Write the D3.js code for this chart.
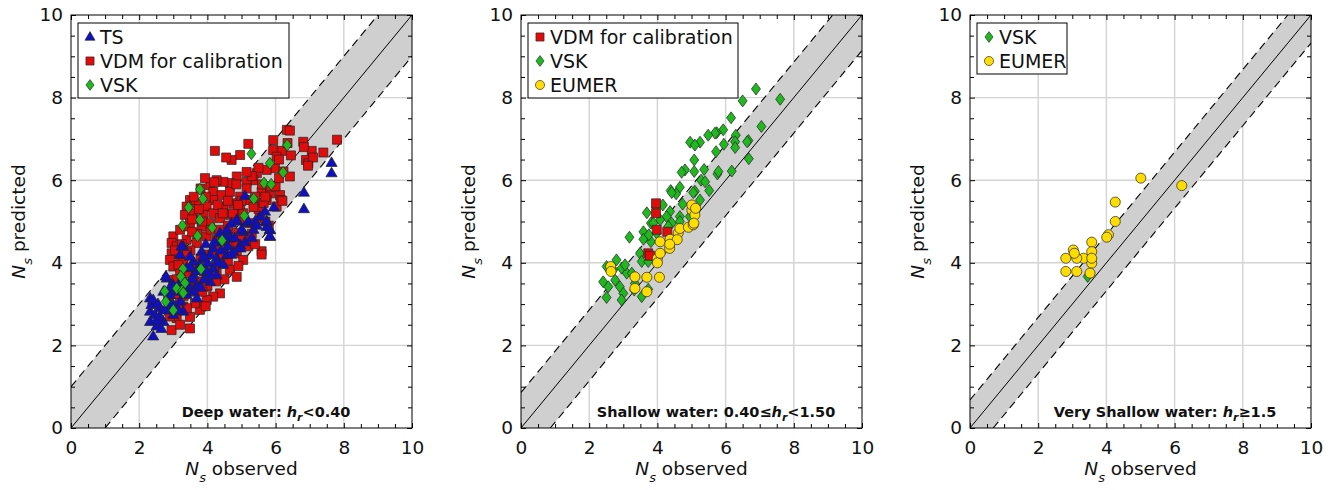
<!DOCTYPE html>
<html><head><meta charset="utf-8">
<script src="https://cdn.jsdelivr.net/npm/d3@7"></script>
<style>
html,body{margin:0;padding:0;background:#fff;}
svg{display:block;font-family:"DejaVu Sans",sans-serif;}
</style></head>
<body><svg id="chart" width="1338" height="490"></svg>
<script>
// ---------------- DATA ----------------
const axisTicks = [0, 2, 4, 6, 8, 10];
const minorTicks = [0.5,1,1.5,2.5,3,3.5,4.5,5,5.5,6.5,7,7.5,8.5,9,9.5];
const panelTitles = ["Deep water", "Shallow water", "Very Shallow water"];
const bandHalfWidth = [1.0, 0.86, 0.68];

// Panel 1 – Deep water
const deepVDM = [[6.33,7.22],[6.42,7.20],[5.93,6.97],[6.81,6.93],[7.06,6.71],[7.40,6.67],[6.89,6.49],[6.96,6.41],[7.80,6.98],[6.83,6.80],[7.10,6.55],[6.95,6.35],
[5.20,6.88],[4.22,6.71],[4.96,6.61],[4.71,6.49],[5.93,6.73],[6.18,6.71],[6.03,6.57],[5.98,6.29],[6.23,6.21],[6.42,6.09],[5.74,6.25],[5.45,6.17],[5.35,6.00],[5.15,5.96],
[4.86,6.09],[4.66,5.93],[4.47,5.96],[4.27,6.00],[4.08,5.88],[3.93,6.05],[4.17,5.72],[4.42,5.64],[4.66,5.72],[4.96,5.60],[5.15,5.80],[5.59,5.72],[5.84,5.68],[6.13,5.64],
[6.15,5.52],[6.03,5.36],[5.74,5.52],[5.45,5.36],[5.25,5.52],[4.76,5.44],[4.47,5.36],[4.17,5.52],[3.98,5.36],[3.69,5.44],[3.49,5.52],[3.39,5.36],[3.34,5.16],[3.59,5.20],
[3.88,5.16],[4.17,5.20],[4.37,5.08],[4.66,5.16],[4.96,5.04],[5.25,4.96],[5.54,5.08],[4.96,5.28],[4.08,4.96],[3.83,4.88],[3.49,4.96],[3.34,4.88],[3.00,4.64],[2.95,4.48],
[3.10,4.40],[3.39,4.56],[3.69,4.48],[3.98,4.64],[4.27,4.56],[4.57,4.72],[4.86,4.72],[5.15,4.64],[5.59,4.28],[5.59,4.20],[2.95,4.23],[3.20,4.15],[2.90,4.07],[3.00,3.91],
[4.57,4.15],[4.86,4.23],[5.05,4.07],[4.37,3.99],[4.66,3.83],[4.86,3.66],[4.91,3.92],[4.27,3.75],[3.98,3.66],[3.69,3.83],[3.20,3.75],[3.00,3.58],[3.10,3.42],[3.49,3.50],
[3.98,3.42],[4.37,3.26],[4.17,3.18],[3.98,3.10],[3.83,2.94],[3.78,2.86],[3.64,3.02],[3.49,2.69],[3.49,2.41],[2.95,2.37],[3.10,2.66],[3.29,2.94],[3.20,3.10],
[4.00,4.20],[4.20,4.30],[4.50,4.40],[4.70,4.50],[3.80,4.10],[3.60,3.90],[4.40,4.60],[4.10,4.80],[3.70,4.70],[4.60,4.90],[5.00,4.60],[5.30,4.70],[5.50,5.30],[5.70,5.00],
[5.80,4.90],[3.50,4.30],[3.30,4.00],[3.10,3.60],[3.30,3.20],[3.60,3.30],[3.90,3.80],[4.20,3.90],[4.50,3.60],[4.00,3.45],[3.40,2.90],[3.00,2.90],[3.20,2.50],[2.90,2.70],
[3.80,5.80],[3.60,5.60],[4.30,5.40],[4.60,5.50],[5.00,5.50],[5.40,5.60],[5.60,5.90],[5.85,5.85],[6.20,5.50],[6.10,6.50],[6.45,6.60],[6.35,6.90],[5.50,6.30],[5.30,6.10],
[4.85,5.90],[4.20,5.95],[3.95,5.60],[4.55,6.55],[5.15,6.20],[3.25,4.45],[3.55,4.75],[3.75,5.30],[4.35,4.80],[4.75,5.20],[5.05,5.20],[5.35,5.35],[5.65,5.45],[6.00,5.85],
[3.15,3.95],[3.45,3.75],[3.70,3.55],[3.85,3.30],[4.25,3.55],[4.60,4.05],[5.20,4.40],[2.85,3.20],[3.05,3.25],[3.35,3.45],
[3.55,5.05],[3.85,5.00],[4.45,5.20],[4.90,5.40],[5.70,5.60],[6.10,6.05],[3.20,4.80],[3.05,4.30],[3.40,4.25],[4.85,4.45],[5.40,4.45],[4.45,4.20],[3.25,3.35],[3.95,2.95]];
const deepTS = [[5.74,5.00],[5.84,4.79],[5.84,4.63],[5.74,4.87],[5.05,4.75],[4.86,5.00],[4.57,4.75],[4.66,4.59],[4.96,4.43],[4.97,4.35],[4.37,4.51],[4.17,4.35],[4.08,4.19],
[3.88,4.11],[3.83,4.27],[4.27,4.11],[4.57,4.19],[4.76,4.27],[4.47,3.95],[4.17,3.87],[3.98,3.79],[3.78,3.95],[3.59,4.03],[3.29,4.39],[3.20,4.19],[3.39,3.87],[3.59,3.70],
[4.08,3.54],[4.27,3.70],[3.69,3.46],[3.49,3.38],[3.20,3.54],[3.00,3.46],[2.81,3.62],[2.71,3.30],[2.90,3.22],[3.39,3.22],[3.69,3.14],[3.20,3.06],[3.00,2.98],[2.81,2.90],
[2.61,2.90],[2.41,3.06],[2.32,3.14],[2.32,2.82],[2.46,2.74],[2.61,2.66],[3.00,2.74],[3.29,2.82],[2.32,2.57],[2.71,2.57],[2.41,2.22],[2.51,2.46],[2.36,2.98],[2.41,3.10],
[2.78,3.67],[3.24,4.40],[3.49,4.15],[3.88,4.15],[4.37,4.72],[4.57,4.80],[4.86,5.04],[5.15,4.96],[5.35,4.80],[5.54,5.12],[5.10,5.62],[5.73,5.00],[5.69,5.24],[5.95,5.34],
[5.83,4.80],[5.83,4.64],[6.83,5.70],[6.83,5.30],[7.64,6.42],[7.64,6.17],[4.00,4.00],[4.20,4.50],[4.40,4.30],[3.90,3.60],[4.60,4.40],[4.80,4.60],[5.00,4.80],[5.20,5.00],
[5.40,5.00],[3.70,3.80],[3.30,3.60],[3.10,3.30],[2.90,3.00],[2.60,2.70],[2.50,2.60],[3.50,3.90],[4.10,3.70],[4.30,4.00],[4.70,4.20],[5.10,4.50],[5.30,4.60],[2.90,3.40],
[3.60,3.30],[2.75,2.85],[3.95,4.45],[4.50,4.60],[4.70,4.95],[5.45,4.90],[3.40,3.45],[3.80,3.40],[2.55,3.00],[2.65,2.40],[3.15,2.85],[3.55,3.60]];
const deepVSK = [[6.34,6.85],[5.29,6.64],[5.83,6.41],[6.22,6.19],[5.66,5.93],[5.87,5.90],[5.36,5.55],[3.78,5.78],[3.87,5.55],[3.45,5.34],[3.78,5.04],[3.27,4.90],
[4.14,4.85],[5.08,5.14],[3.71,4.65],[4.43,4.54],[3.28,3.85],[3.81,3.85],[3.22,3.67],[3.34,3.51],[3.10,3.38],[2.75,3.31],[3.26,3.32],[2.78,3.06],[3.00,2.85],[3.29,3.27]];

// Panel 2 – Shallow water
const shallowVDM = [[3.96,5.44],[3.96,5.20],[3.98,4.80],[4.29,4.75],[3.73,4.23],[3.78,4.17]];
const shallowVSK = [[6.89,8.21],[6.50,7.92],[7.60,7.96],[6.16,7.51],[7.05,7.30],[5.93,7.22],[5.74,7.15],[5.69,7.14],[5.49,7.09],[6.30,7.09],[6.67,6.96],[6.63,6.93],
[6.28,6.93],[4.96,6.92],[5.25,6.92],[5.10,6.85],[5.95,6.87],[6.28,6.79],[5.72,6.69],[6.68,6.52],[5.08,6.49],[4.81,6.25],[4.71,6.19],[5.37,6.26],[5.08,6.21],[6.18,6.22],
[5.76,6.15],[5.79,6.21],[5.28,6.00],[5.40,5.96],[5.52,5.75],[5.10,5.73],[4.66,5.83],[4.55,5.67],[4.39,5.75],[5.25,5.52],[4.42,5.70],[5.05,5.70],[4.74,5.42],[3.96,5.34],
[4.16,5.40],[3.69,5.21],[4.37,5.24],[4.27,5.12],[3.81,4.96],[4.08,5.04],[4.42,4.96],[3.59,4.75],[3.18,4.62],[3.81,4.51],[3.59,4.57],[3.98,4.72],[3.75,4.68],[3.49,4.23],
[3.54,4.03],[3.73,4.03],[2.71,3.83],[2.95,3.87],[3.10,3.75],[2.41,3.54],[2.76,3.58],[2.56,3.42],[2.90,3.42],[3.00,3.26],[2.51,3.16],[2.95,3.10],[3.34,3.50],[3.25,3.75],
[3.54,3.18],[3.32,3.34],[3.73,3.36],[4.66,5.12],[4.95,5.12],[4.66,5.00],[4.32,4.88],[3.88,4.96],[2.80,4.07],[2.51,3.91],[3.05,3.95]];
const shallowEUMER = [[2.63,3.91],[2.64,3.79],[3.34,3.66],[3.34,3.38],[3.69,3.65],[3.69,3.30],[4.06,3.65],[4.00,4.11],[4.00,4.00],[4.08,4.23],[4.08,4.51],[4.37,4.57],
[4.36,4.35],[4.61,4.72],[4.58,4.56],[4.66,4.83],[4.91,4.86],[5.05,4.92],[5.01,5.28],[5.01,5.40],[5.10,5.16],[5.07,4.96],[4.36,4.45],[5.12,5.32]];

// Panel 3 – Very shallow water
const vshallowVSK = [[3.45,3.67]];
const vshallowEUMER = [[5.01,6.05],[6.21,5.87],[4.26,5.47],[4.26,5.00],[4.06,4.68],[4.01,4.62],[3.57,4.50],[3.57,4.27],[3.57,3.99],[3.52,3.75],[3.33,4.11],[3.13,4.11],
[3.03,4.31],[3.06,4.23],[2.81,4.11],[2.81,3.79],[3.13,3.79],[3.57,4.11]];

// ---------------- STYLE ----------------
const styles = {
  TS:   {shape:"triangle", fill:"#1010c0"},
  VDM:  {shape:"square",   fill:"#e00c0c"},
  VSK:  {shape:"diamond",  fill:"#1fb81f"},
  EUMER:{shape:"circle",   fill:"#ffdd00"}
};
const legendNames = {TS:"TS", VDM:"VDM for calibration", VSK:"VSK", EUMER:"EUMER"};

function markerPath(shape){
  if(shape==="triangle") return "M0,-6L5.6,3.6L-5.6,3.6Z";
  if(shape==="square") return "M-4.5,-4.5L4.5,-4.5L4.5,4.5L-4.5,4.5Z";
  if(shape==="diamond") return "M0,-6L4.5,0L0,6L-4.5,0Z";
  return d3.symbol(d3.symbolCircle, 80)();
}

const panels = [
  {left:71,  band:bandHalfWidth[0], series:[["VDM",deepVDM],["TS",deepTS],["VSK",deepVSK]], legend:["TS","VDM","VSK"], legendW:211,
   note:{pre:"Deep water: ", post:"<0.40"}},
  {left:521, band:bandHalfWidth[1], series:[["VSK",shallowVSK],["VDM",shallowVDM],["EUMER",shallowEUMER]], legend:["VDM","VSK","EUMER"], legendW:210,
   note:{pre:"Shallow water: 0.40≤", post:"<1.50"}},
  {left:970, band:bandHalfWidth[2], series:[["VSK",vshallowVSK],["EUMER",vshallowEUMER]], legend:["VSK","EUMER"], legendW:90,
   note:{pre:"Very Shallow water: ", post:"≥1.5"}}
];

const svg = d3.select("#chart");
const W = 341, H = 413, TOP = 15;

panels.forEach((p, pi) => {
  const g = svg.append("g").attr("transform", `translate(${p.left},${TOP})`);
  const x = d3.scaleLinear().domain([0,10]).range([0,W]);
  const y = d3.scaleLinear().domain([0,10]).range([H,0]);

  const clipId = "clip"+pi;
  g.append("clipPath").attr("id",clipId).append("rect").attr("width",W).attr("height",H);
  const inner = g.append("g").attr("clip-path",`url(#${clipId})`);

  // grid
  axisTicks.slice(1,-1).forEach(t => {
    inner.append("line").attr("x1",x(t)).attr("x2",x(t)).attr("y1",0).attr("y2",H)
      .attr("stroke","#d4d4d4").attr("stroke-width",1.4);
    inner.append("line").attr("y1",y(t)).attr("y2",y(t)).attr("x1",0).attr("x2",W)
      .attr("stroke","#d4d4d4").attr("stroke-width",1.4);
  });

  // band
  const d = p.band;
  const poly = [[0,0],[d,0],[10,10-d],[10,10],[10-d,10],[0,d]];
  inner.append("path").attr("d", d3.line().x(v=>x(v[0])).y(v=>y(v[1]))(poly)+"Z")
    .attr("fill","#cfcfcf");
  inner.append("line").attr("x1",x(0)).attr("y1",y(0)).attr("x2",x(10)).attr("y2",y(10))
    .attr("stroke","#000").attr("stroke-width",1);
  [[[0,d],[10-d,10]],[[d,0],[10,10-d]]].forEach(seg => {
    inner.append("line").attr("x1",x(seg[0][0])).attr("y1",y(seg[0][1]))
      .attr("x2",x(seg[1][0])).attr("y2",y(seg[1][1]))
      .attr("stroke","#000").attr("stroke-width",1.1).attr("stroke-dasharray","8,5");
  });

  // points
  p.series.forEach(([name, data]) => {
    const st = styles[name];
    g.append("g").selectAll("path").data(data).enter().append("path")
      .attr("d", markerPath(st.shape))
      .attr("transform", v => `translate(${x(v[0])},${y(v[1])})`)
      .attr("fill", st.fill).attr("stroke","#222").attr("stroke-width",0.7);
  });

  // frame
  g.append("rect").attr("width",W).attr("height",H).attr("fill","none").attr("stroke","#000").attr("stroke-width",1);

  // axes with inward ticks
  const fs = "18.5px";
  const xa = g.append("g").attr("transform",`translate(0,${H})`)
    .call(d3.axisBottom(x).tickValues(axisTicks).tickSize(-5).tickPadding(13).tickFormat(d3.format("d")));
  const ya = g.append("g")
    .call(d3.axisLeft(y).tickValues(axisTicks).tickSize(-5).tickPadding(8).tickFormat(d3.format("d")));
  const xt = g.append("g").call(d3.axisTop(x).tickValues(axisTicks).tickSize(-5).tickFormat(""));
  const yr = g.append("g").attr("transform",`translate(${W},0)`).call(d3.axisRight(y).tickValues(axisTicks).tickSize(-5).tickFormat(""));
  [xa,ya,xt,yr].forEach(a => { a.select(".domain").remove(); a.selectAll("text").attr("font-size",fs).attr("font-family","DejaVu Sans").attr("fill","#111"); });
  // minor ticks
  g.append("g").attr("transform",`translate(0,${H})`).call(d3.axisBottom(x).tickValues(minorTicks).tickSize(-4).tickFormat("")).select(".domain").remove();
  g.append("g").call(d3.axisTop(x).tickValues(minorTicks).tickSize(-4).tickFormat("")).select(".domain").remove();
  g.append("g").call(d3.axisLeft(y).tickValues(minorTicks).tickSize(-4).tickFormat("")).select(".domain").remove();
  g.append("g").attr("transform",`translate(${W},0)`).call(d3.axisRight(y).tickValues(minorTicks).tickSize(-4).tickFormat("")).select(".domain").remove();

  // axis labels
  const xl = g.append("text").attr("x",W/2).attr("y",H+47).attr("text-anchor","middle").attr("font-size","18.5px").attr("fill","#111");
  xl.append("tspan").attr("font-style","italic").text("N");
  xl.append("tspan").attr("font-style","italic").attr("font-size","13px").attr("dy",7).text("s");
  xl.append("tspan").attr("dy",-7).text(" observed");
  const yl = g.append("text").attr("transform",`translate(-46,${H/2}) rotate(-90)`)
    .attr("text-anchor","middle").attr("font-size","18.5px").attr("fill","#111");
  yl.append("tspan").attr("font-style","italic").text("N");
  yl.append("tspan").attr("font-style","italic").attr("font-size","13px").attr("dy",7).text("s");
  yl.append("tspan").attr("dy",-7).text(" predicted");

  // annotation
  const nt = g.append("text").attr("x",x(5.72)).attr("y",y(0.27)).attr("text-anchor","middle")
    .attr("font-size","14.5px").attr("font-weight","bold").attr("fill","#111");
  nt.append("tspan").text(p.note.pre);
  nt.append("tspan").attr("font-style","italic").text("h");
  nt.append("tspan").attr("font-style","italic").attr("font-size","11px").attr("dy",4).text("r");
  nt.append("tspan").attr("dy",-4).text(p.note.post);

  // legend
  const lg = g.append("g").attr("transform","translate(7,8)");
  const lh = p.legend.length*24 + 3;
  lg.append("rect").attr("width",p.legendW).attr("height",lh).attr("fill","#fff").attr("stroke","#000").attr("stroke-width",1);
  p.legend.forEach((name,i) => {
    const st = styles[name];
    const cy = 14 + i*24;
    lg.append("path").attr("d",markerPath(st.shape)).attr("transform",`translate(12,${cy}) scale(0.9)`)
      .attr("fill",st.fill).attr("stroke","#222").attr("stroke-width",0.7);
    lg.append("text").attr("x",22).attr("y",cy+7).attr("font-size","19px").attr("fill","#111").text(legendNames[name]);
  });
});
</script></body></html>
